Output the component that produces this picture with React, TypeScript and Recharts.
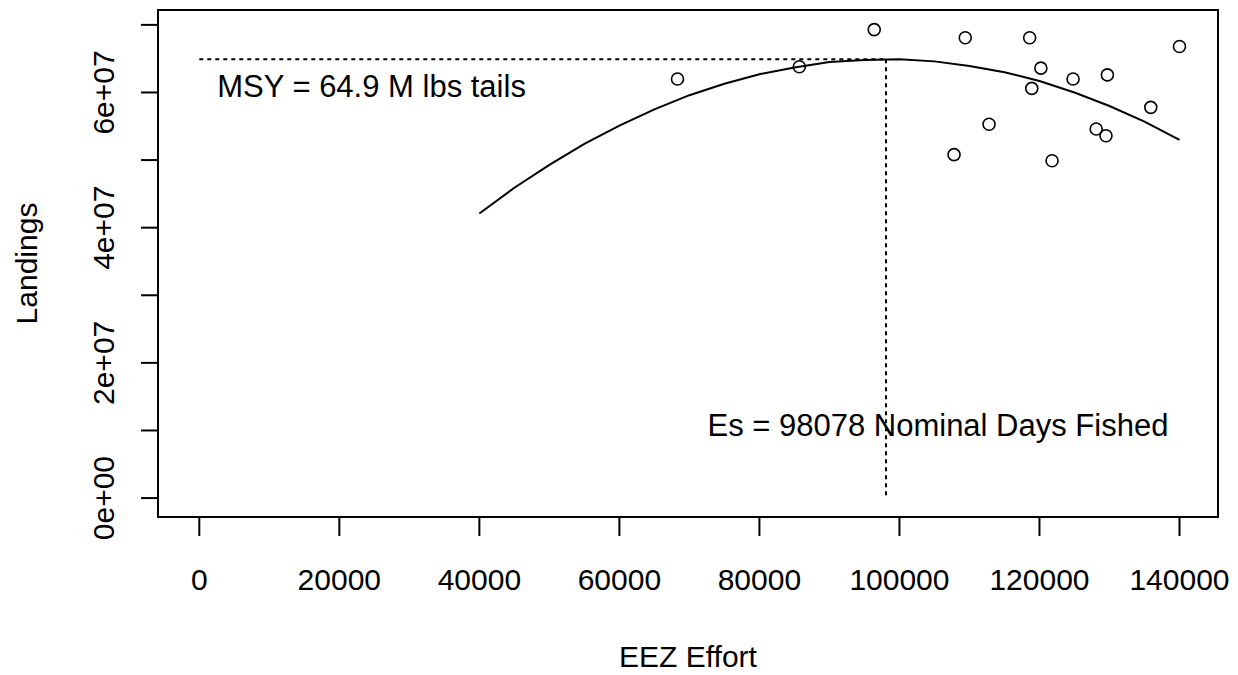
import {
  ComposedChart,
  Line,
  Scatter,
  XAxis,
  YAxis,
  ReferenceLine,
  ReferenceArea,
  ReferenceDot,
} from "recharts";

// observed effort (nominal days) vs landings (lbs tails)
const effort = [
  68300, 85700, 96400, 109400, 118600, 140000, 120200, 124800,
  129700, 118900, 135900, 112800, 128100, 129500, 107800, 121800,
];
const landings = [
  62.0e6, 63.8e6, 69.3e6, 68.1e6, 68.1e6, 66.8e6, 63.6e6, 62.0e6,
  62.6e6, 60.6e6, 57.8e6, 55.3e6, 54.6e6, 53.6e6, 50.8e6, 49.9e6,
];

// fitted production curve
const curveEffort = [
  40000, 45000, 50000, 55000, 60000, 65000, 70000, 75000, 80000, 85000, 90000,
  95000, 100000, 105000, 110000, 115000, 120000, 125000, 130000, 135000, 140000,
];
const curveLandings = [
  42.1e6, 45.9e6, 49.3e6, 52.4e6, 55.1e6, 57.5e6, 59.6e6, 61.3e6, 62.7e6, 63.7e6, 64.5e6,
  64.8e6, 64.9e6, 64.6e6, 63.9e6, 63.0e6, 61.7e6, 60.0e6, 58.0e6, 55.7e6, 53.0e6,
];

const msy = 64.9e6;
const es = 98078;

const xTicks = [0, 20000, 40000, 60000, 80000, 100000, 120000, 140000];
const yTicks = [0, 1e7, 2e7, 3e7, 4e7, 5e7, 6e7, 7e7];
const yTickLabels = ["0e+00", "", "2e+07", "", "4e+07", "", "6e+07", ""];

const xDomain = [-5900, 145500];
const yDomain = [-2.8e6, 72.2e6];

const points = effort.map((x, i) => ({ x, y: landings[i] }));
const curve = curveEffort.map((x, i) => ({ x, y: curveLandings[i] }));

const FONT = "'Liberation Sans', Arial, Helvetica, sans-serif";

const XTick = (props: any) => {
  const { x, y, payload } = props;
  return (
    <text x={x} y={y + 54} textAnchor="middle" fontSize={30} fill="#000" fontFamily={FONT}>
      {payload.value}
    </text>
  );
};

const YTick = (props: any) => {
  const { x, y, payload } = props;
  const i = yTicks.indexOf(payload.value);
  const bx = x - 27;
  return (
    <text
      x={bx}
      y={y}
      transform={`rotate(-90, ${bx}, ${y})`}
      textAnchor="middle"
      fontSize={30}
      fill="#000"
      fontFamily={FONT}
    >
      {yTickLabels[i]}
    </text>
  );
};

const Ring = (props: any) => (
  <circle cx={props.cx} cy={props.cy} r={6} fill="none" stroke="#000" strokeWidth={1.6} />
);

export default function App() {
  return (
    <div style={{ fontFamily: FONT }}>
      <ComposedChart
        width={1222}
        height={665}
        margin={{ top: 2, right: 12, bottom: 0, left: 0 }}
      >
        <XAxis
          type="number"
          dataKey="x"
          domain={xDomain}
          allowDataOverflow
          ticks={xTicks}
          interval={0}
          height={156}
          axisLine={false}
          tickSize={19}
          tickMargin={0}
          tickLine={{ stroke: "#000", strokeWidth: 2 }}
          tick={<XTick />}
          label={{
            content: (p: any) => {
              const vb = p.viewBox;
              return (
                <text
                  x={vb.x + vb.width / 2}
                  y={vb.y + vb.height - 6}
                  textAnchor="middle"
                  fontSize={30}
                  fill="#000"
                  fontFamily={FONT}
                >
                  EEZ Effort
                </text>
              );
            },
          }}
        />
        <YAxis
          type="number"
          dataKey="y"
          domain={yDomain}
          allowDataOverflow
          ticks={yTicks}
          interval={0}
          width={150}
          axisLine={false}
          tickSize={17}
          tickMargin={0}
          tickLine={{ stroke: "#000", strokeWidth: 2 }}
          tick={<YTick />}
          label={{
            content: (p: any) => {
              const vb = p.viewBox;
              const cx = vb.x + 29;
              const cy = vb.y + vb.height / 2;
              return (
                <text
                  x={cx}
                  y={cy}
                  transform={`rotate(-90, ${cx}, ${cy})`}
                  textAnchor="middle"
                  fontSize={30}
                  fill="#000"
                  fontFamily={FONT}
                >
                  Landings
                </text>
              );
            },
          }}
        />
        <ReferenceArea
          x1={xDomain[0]}
          x2={xDomain[1]}
          y1={yDomain[0]}
          y2={yDomain[1]}
          fill="none"
          stroke="#000"
          strokeWidth={2}
          ifOverflow="visible"
        />
        <ReferenceLine
          segment={[{ x: 0, y: msy }, { x: es, y: msy }]}
          stroke="#000"
          strokeWidth={2}
          strokeDasharray="4 4"
        />
        <ReferenceLine
          segment={[{ x: es, y: msy }, { x: es, y: 0 }]}
          stroke="#000"
          strokeWidth={2}
          strokeDasharray="4 4"
        />
        <Line
          data={curve}
          dataKey="y"
          type="linear"
          stroke="#000"
          strokeWidth={2}
          dot={false}
          activeDot={false}
          isAnimationActive={false}
        />
        <Scatter data={points} dataKey="y" shape={<Ring />} isAnimationActive={false} />
        <ReferenceDot
          x={24600}
          y={60.9e6}
          r={1}
          fill="none"
          stroke="none"
          label={{ value: "MSY = 64.9 M lbs tails", position: "center", fontSize: 31, fill: "#000" }}
        />
        <ReferenceDot
          x={105500}
          y={10.75e6}
          r={1}
          fill="none"
          stroke="none"
          label={{ value: "Es = 98078 Nominal Days Fished", position: "center", fontSize: 31, fill: "#000" }}
        />
      </ComposedChart>
    </div>
  );
}
